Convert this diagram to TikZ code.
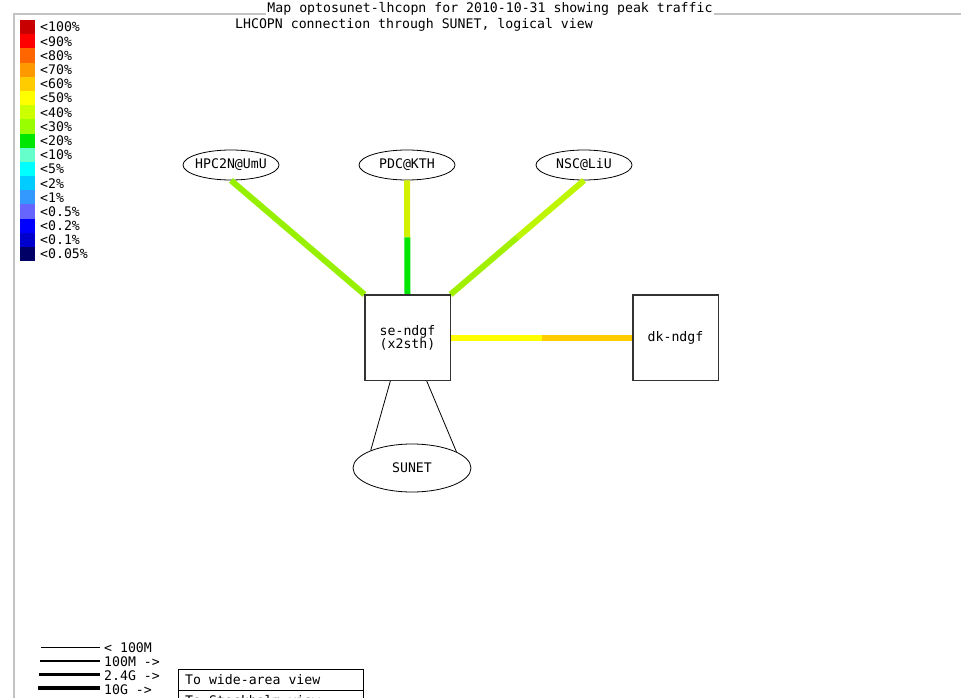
\documentclass[tikz,border=0pt]{standalone}
\usepackage{fontspec}
\setmonofont{DejaVu Sans Mono}
\usetikzlibrary{shapes.geometric,calc}
\definecolor{frame}{RGB}{195,195,195}
\definecolor{c100}{RGB}{200,0,0}
\definecolor{c90}{RGB}{255,0,0}
\definecolor{c80}{RGB}{255,102,0}
\definecolor{c70}{RGB}{255,153,0}
\definecolor{c60}{RGB}{255,204,0}
\definecolor{c50}{RGB}{255,255,0}
\definecolor{c40}{RGB}{204,255,0}
\definecolor{c30}{RGB}{153,255,0}
\definecolor{c20}{RGB}{0,230,0}
\definecolor{c10}{RGB}{102,255,204}
\definecolor{c5}{RGB}{0,255,255}
\definecolor{c2}{RGB}{0,204,255}
\definecolor{c1}{RGB}{51,153,255}
\definecolor{c05}{RGB}{102,102,255}
\definecolor{c02}{RGB}{0,0,255}
\definecolor{c01}{RGB}{0,0,204}
\definecolor{c005}{RGB}{0,0,102}
\definecolor{hpc}{RGB}{150,240,0}
\definecolor{nscup}{RGB}{190,245,0}
\definecolor{nsclo}{RGB}{160,240,0}
\definecolor{pdcup}{RGB}{210,240,0}
\newcommand{\zw}[1]{\makebox[0pt]{#1}}
\tikzset{
  txt/.style={font=\ttfamily\fontsize{13.2}{14}\selectfont, inner sep=0pt},
  site/.style={ellipse, draw=black, line width=0.8pt, minimum width=96pt, minimum height=30pt, inner sep=0pt, font=\ttfamily\fontsize{13.2}{14}\selectfont},
  router/.style={rectangle, draw=black!80, line width=1pt, minimum width=85pt, minimum height=85pt, inner sep=0pt, align=center, font=\ttfamily\fontsize{13.2}{13}\selectfont},
  link/.style={line width=6pt},
  thin link/.style={line width=0.8pt, draw=black},
  swatch/.style={minimum width=15pt, minimum height=14.2pt, inner sep=0pt, draw=none},
  leglabel/.style={txt, anchor=west}
}
\begin{document}
\begin{tikzpicture}[x=1pt,y=-1pt]
\useasboundingbox (0,0) rectangle (961,698);
\clip (0,0) rectangle (961,698);
\fill[white] (0,0) rectangle (961,698);
% frame
\draw[frame, line width=2pt] (961,14) -- (14,14) -- (14,698);
% titles
\node[txt, fill=white, inner xsep=1pt] (title) at (490,9) {Map optosunet-lhcopn for 2010-10-31 showing peak traffic};
\node[txt] (subtitle) at (414,25) {LHCOPN connection through SUNET, logical view};
% colour legend
\foreach \c/\t [count=\i from 0] in {c100/{<100\%},c90/{<90\%},c80/{<80\%},c70/{<70\%},c60/{<60\%},c50/{<50\%},c40/{<40\%},c30/{<30\%},c20/{<20\%},c10/{<10\%},c5/{<5\%},c2/{<2\%},c1/{<1\%},c05/{<0.5\%},c02/{<0.2\%},c01/{<0.1\%},c005/{<0.05\%}}{
  \node[swatch, fill=\c] (sw\i) at (27.5,{27.1+14.19*\i}) {};
  \node[leglabel] (lg\i) at (40,{27.1+14.19*\i}) {\t};
}
% nodes
\node[site] (hpc) at (231,165) {\zw{HPC2N@UmU}};
\node[site] (pdc) at (407,165) {\zw{PDC@KTH}};
\node[site] (nsc) at (584,165) {\zw{NSC@LiU}};
\node[router] (se) at (407.5,337.5) {se-ndgf\\(x2sth)};
\node[router] (dk) at (675.5,337.5) {dk-ndgf};
\node[site, minimum width=118pt, minimum height=48pt] (sunet) at (412,468) {\zw{SUNET}};
% links
\coordinate (hm) at ($(hpc.south)!0.5!(se.north west)$);
\draw[link, hpc] (hpc.south) -- (hm);
\draw[link, hpc] (hm) -- (se.north west);
\coordinate (pm) at ($(pdc.south)!0.5!(se.north)$);
\draw[link, pdcup] (pdc.south) -- (pm);
\draw[link, c20] (pm) -- (se.north);
\coordinate (nm) at ($(nsc.south)!0.5!(se.north east)$);
\draw[link, nscup] (nsc.south) -- (nm);
\draw[link, nsclo] (nm) -- (se.north east);
\coordinate (dm) at ($(se.east)!0.5!(dk.west)$);
\draw[link, c50] (se.east) -- (dm);
\draw[link, c60] (dm) -- (dk.west);
\draw[thin link] ($(se.south)+(-17,0)$) -- (sunet.157);
\draw[thin link] ($(se.south)+(19,0)$) -- (sunet.20);
% redraw borders on top
\draw[black!80, line width=1pt] (se.north west) rectangle (se.south east);
\draw[black!80, line width=1pt] (dk.north west) rectangle (dk.south east);
% bandwidth legend
\coordinate (b1a) at (41,647); \coordinate (b1b) at (100,647);
\coordinate (b2a) at (40,661); \coordinate (b2b) at (100,661);
\coordinate (b3a) at (39,674); \coordinate (b3b) at (100,674);
\coordinate (b4a) at (38,688); \coordinate (b4b) at (100,688);
\draw[line width=1pt] (b1a) -- (b1b);
\draw[line width=2pt] (b2a) -- (b2b);
\draw[line width=3pt] (b3a) -- (b3b);
\draw[line width=4.5pt] (b4a) -- (b4b);
\node[leglabel] (bl1) at (104,648) {< 100M};
\node[leglabel] (bl2) at (104,662) {100M ->};
\node[leglabel] (bl3) at (104,676) {2.4G ->};
\node[leglabel] (bl4) at (104,690) {10G ->};
% link box
\draw[black, line width=1pt] (178,710) -- (178,669) -- (363,669) -- (363,710);
\draw[black, line width=1pt] (178,690) -- (363,690);
\node[leglabel] (wide) at (185,680) {To wide-area view};
\node[leglabel] (sthlm) at (185,701) {To Stockholm view};
\end{tikzpicture}
\end{document}
